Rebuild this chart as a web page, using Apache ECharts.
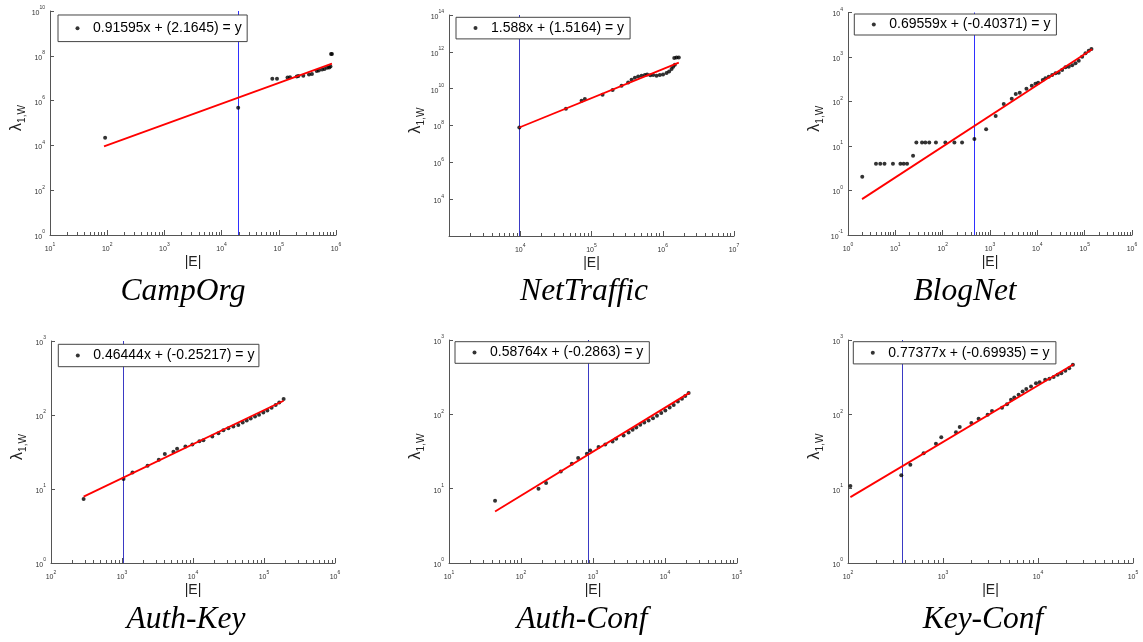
<!DOCTYPE html>
<html><head><meta charset="utf-8">
<script src="https://cdn.jsdelivr.net/npm/echarts@6/dist/echarts.min.js"></script>
<style>html,body{margin:0;padding:0;background:#fff}#c{width:1143px;height:642px}</style>
</head><body><div id="c"></div>
<script>
// ---------------- data ----------------
const campOrgE      = [92, 19500, 77000, 93000, 142000, 157000, 206000, 220000, 268000, 337000, 380000, 460000, 500000, 570000, 630000, 700000, 760000, 800000, 820000, 850000];
const campOrgLambda = [2.2e4, 4.8e5, 9.5e6, 9.5e6, 1.07e7, 1.1e7, 1.2e7, 1.25e7, 1.3e7, 1.45e7, 1.55e7, 2.1e7, 2.2e7, 2.45e7, 2.6e7, 2.9e7, 3.0e7, 3.3e7, 1.2e8, 1.2e8];
const campOrgFitE = [88, 850000];
const campOrgFitLambda = [9000, 4.5e7];
const campOrgCut = 19500;
const campOrgXRange = [1e1, 1e6];
const campOrgYRange = [1e0, 1e10];

const netTrafficE      = [9700, 43750, 72600, 80700, 143000, 198000, 264000, 327000, 365000, 406000, 452000, 505000, 561000, 604000, 668000, 733000, 818000, 910000, 1010000, 1130000, 1230000, 1330000, 1400000, 1480000, 1450000, 1560000, 1680000];
const netTrafficLambda = [7.8e7, 8.0e8, 2.24e9, 2.77e9, 4.74e9, 8.5e9, 1.45e10, 2.19e10, 3.06e10, 3.94e10, 4.62e10, 5.05e10, 5.5e10, 5.93e10, 5.3e10, 5.5e10, 5.05e10, 5.5e10, 5.93e10, 7.06e10, 8.6e10, 1.16e11, 1.55e11, 1.98e11, 4.56e11, 4.92e11, 4.92e11];
const netTrafficFitE = [9700, 1680000];
const netTrafficFitLambda = [7.8e7, 2.6e11];
const netTrafficCut = 9700;
const netTrafficXRange = [1e3, 1e7];
const netTrafficYRange = [1e2, 1e14];

const blogNetE      = [2, 3.9, 4.8, 5.9, 8.9, 12.8, 15, 17.7, 23.7, 27.8, 36.6, 43, 52, 72, 114, 177, 257, 468, 828, 1318, 1950, 2880, 3500, 4250, 5890, 7630, 9120, 10400, 13000, 14800, 17400, 20600, 24200, 28300, 33400, 39300, 46100, 54500, 64000, 75000, 88500, 104000, 122000, 139000];
const blogNetLambda = [2.04, 4, 4, 4, 4, 4, 4, 4, 6, 12, 12, 12, 12, 12, 12, 12, 12, 14.4, 23.7, 47, 88, 116, 148, 158, 194, 226, 251, 264, 304, 332, 361, 394, 431, 444, 511, 587, 605, 650, 721, 826, 1016, 1211, 1387, 1514];
const blogNetFitE = [1.98, 144000];
const blogNetFitLambda = [0.64, 1490];
const blogNetCut = 468;
const blogNetXRange = [1e0, 1e6];
const blogNetYRange = [1e-1, 1e4];

const authKeyE      = [288, 1050, 1406, 2290, 3300, 4010, 5300, 5970, 7820, 9800, 12300, 14000, 18700, 22800, 26800, 31500, 37000, 43500, 50100, 57100, 65000, 74700, 85100, 97800, 111400, 128000, 146000, 164000, 189000];
const authKeyLambda = [7.3, 13.6, 16.7, 20.6, 24.8, 29.6, 31.8, 34.9, 37.5, 39.9, 44.3, 45.7, 51.2, 56.8, 62.3, 66.4, 69.7, 73.5, 78.9, 84.1, 89.5, 95.3, 101, 108, 115, 125, 136, 147, 165];
const authKeyFitE = [288, 189000];
const authKeyFitLambda = [7.9, 156];
const authKeyCut = 1050;
const authKeyXRange = [1e2, 1e6];
const authKeyYRange = [1e0, 1e3];

const authConfE      = [43.6, 175, 223, 357, 508, 622, 822, 914, 1194, 1480, 1870, 2100, 2660, 3120, 3550, 3990, 4530, 5150, 5920, 6810, 7740, 8870, 10100, 11600, 13200, 15100, 17200, 19100, 21300];
const authConfLambda = [6.9, 10, 11.9, 17, 21.6, 25.8, 29.4, 32.6, 36.3, 39.3, 43.1, 46.9, 51.9, 56.9, 61.9, 66.5, 72.3, 77.6, 82.6, 88.9, 95.5, 104, 113, 124, 134, 149, 162, 177, 193];
const authConfFitE = [43.6, 22000];
const authConfFitLambda = [4.94, 196];
const authConfCut = 849;
const authConfXRange = [1e1, 1e5];
const authConfYRange = [1e0, 1e3];

const keyConfE      = [106, 364, 453, 625, 843, 959, 1370, 1500, 1990, 2370, 2950, 3280, 4180, 4720, 5200, 5630, 6250, 6890, 7530, 8440, 9520, 10400, 11900, 13200, 14600, 16100, 17600, 19400, 21300, 23300];
const keyConfLambda = [10.9, 15.1, 20.9, 30, 40.1, 49.3, 57.6, 67.3, 76.2, 87, 98.4, 111, 123, 137, 157, 168, 183, 203, 220, 237, 262, 271, 291, 300, 319, 340, 358, 385, 418, 463];
const keyConfFitE = [106, 23700];
const keyConfFitLambda = [7.7, 473];
const keyConfCut = 370;
const keyConfXRange = [1e2, 1e5];
const keyConfYRange = [1e0, 1e3];

const titles = ['CampOrg', 'NetTraffic', 'BlogNet', 'Auth-Key', 'Auth-Conf', 'Key-Conf'];
const equations = ['0.91595x + (2.1645) = y', '1.588x + (1.5164) = y', '0.69559x + (-0.40371) = y',
                   '0.46444x + (-0.25217) = y', '0.58764x + (-0.2863) = y', '0.77377x + (-0.69935) = y'];
const xName = '|E|';
const yName = '{l|λ}{s|1,W}';

// ---------------- layout ----------------
const panels = [
  {e: campOrgE, l: campOrgLambda, fe: campOrgFitE, fl: campOrgFitLambda, cut: campOrgCut, xr: campOrgXRange, yr: campOrgYRange, yInt: 2, hide: false,
   grid: [50, 11, 286, 224], leg: [58, 15, [5.3, 5.5, 5.3, 17.5]], cutColor: '#2f2fff', t: [183, 292]},
  {e: netTrafficE, l: netTrafficLambda, fe: netTrafficFitE, fl: netTrafficFitLambda, cut: netTrafficCut, xr: netTrafficXRange, yr: netTrafficYRange, yInt: 2, hide: true,
   grid: [449, 15, 285, 221], leg: [456, 17.3, [2.8, 6, 2.8, 17.5]], cutColor: '#3a3ac4', t: [584, 292]},
  {e: blogNetE, l: blogNetLambda, fe: blogNetFitE, fl: blogNetFitLambda, cut: blogNetCut, xr: blogNetXRange, yr: blogNetYRange, yInt: 1, hide: false,
   grid: [848, 12.5, 284, 222.5], leg: [854.3, 14, [2.5, 6, 2.5, 17.5]], cutColor: '#2f2fff', t: [965, 292]},
  {e: authKeyE, l: authKeyLambda, fe: authKeyFitE, fl: authKeyFitLambda, cut: authKeyCut, xr: authKeyXRange, yr: authKeyYRange, yInt: 1, hide: false,
   grid: [51, 341, 284, 222], leg: [58.3, 344.3, [3.2, 4.5, 3.2, 17.5]], cutColor: '#3a3ac4', t: [186, 620]},
  {e: authConfE, l: authConfLambda, fe: authConfFitE, fl: authConfFitLambda, cut: authConfCut, xr: authConfXRange, yr: authConfYRange, yInt: 1, hide: false,
   grid: [449, 340, 288, 223], leg: [455, 341.7, [2.8, 6, 2.8, 17.5]], cutColor: '#3a3ac4', t: [582, 620]},
  {e: keyConfE, l: keyConfLambda, fe: keyConfFitE, fl: keyConfFitLambda, cut: keyConfCut, xr: keyConfXRange, yr: keyConfYRange, yInt: 1, hide: false,
   grid: [848, 340, 285, 223], leg: [853.3, 341.7, [3.1, 6.5, 3.1, 17.5]], cutColor: '#3a3ac4', t: [983, 620]}
];

const AX = '#555';
const tickRich = {
  b: {fontSize: 7, lineHeight: 11, verticalAlign: 'bottom', fontFamily: 'Liberation Sans', color: '#333'},
  e: {fontSize: 5, lineHeight: 5, verticalAlign: 'top', fontFamily: 'Liberation Sans', color: '#333'}
};
function fmt(hideExp) {
  return function (v) {
    const ex = Math.round(Math.log10(v));
    if (hideExp !== null && ex === hideExp) return '';
    return '{b|10}{e|' + ex + '}';
  };
}

const grids = [], xAxes = [], yAxes = [], legends = [], series = [], graphics = [];
panels.forEach(function (p, i) {
  grids.push({left: p.grid[0], top: p.grid[1], width: p.grid[2], height: p.grid[3], containLabel: false, outerBoundsMode: 'none'});
  xAxes.push({
    type: 'log', logBase: 10, gridIndex: i, min: p.xr[0], max: p.xr[1], interval: 1,
    axisLine: {show: true, lineStyle: {color: AX, width: 1}},
    axisTick: {show: true, inside: true, length: 5, lineStyle: {color: AX}},
    minorTick: {show: true, splitNumber: 9, length: 3, lineStyle: {color: AX}},
    splitLine: {show: false}, minorSplitLine: {show: false},
    axisLabel: {margin: 7, formatter: fmt(p.hide ? Math.round(Math.log10(p.xr[0])) : null), rich: tickRich},
    name: xName, nameLocation: 'middle', nameGap: 20,
    nameTextStyle: {fontSize: 14, fontFamily: 'Liberation Sans', color: '#222'}
  });
  yAxes.push({
    type: 'log', logBase: 10, gridIndex: i, min: p.yr[0], max: p.yr[1], interval: p.yInt,
    axisLine: {show: true, lineStyle: {color: AX, width: 1}},
    axisTick: {show: true, inside: true, length: 4, lineStyle: {color: AX}},
    splitLine: {show: false},
    axisLabel: {margin: 5, formatter: fmt(p.hide ? Math.round(Math.log10(p.yr[0])) : null), rich: tickRich},
    name: yName, nameLocation: 'middle', nameRotate: 90, nameGap: 23,
    nameTextStyle: {padding: [0, 0, 0, 10], rich: {
      l: {fontSize: 16, lineHeight: 20, verticalAlign: 'middle', fontFamily: 'Liberation Sans', color: '#222'},
      s: {fontSize: 10, lineHeight: 11, verticalAlign: 'bottom', fontFamily: 'Liberation Sans', color: '#222'}
    }}
  });
  legends.push({
    data: [equations[i]], left: p.leg[0], top: p.leg[1], padding: p.leg[2], orient: 'horizontal',
    icon: 'circle', itemWidth: 21, itemHeight: 4, itemGap: 0, selectedMode: false, z: 50, zlevel: 0,
    backgroundColor: '#fff', borderColor: '#444', borderWidth: 1, borderRadius: 0,
    textStyle: {fontSize: 14, fontFamily: 'Liberation Sans', color: '#000', lineHeight: 16}
  });
  series.push({
    type: 'line', xAxisIndex: i, yAxisIndex: i, data: [], z: 1, silent: true,
    markLine: {silent: true, z: 1, symbol: ['none', 'none'], label: {show: false}, animation: false,
      lineStyle: {color: p.cutColor, width: 1, type: 'solid'}, data: [{xAxis: p.cut}]}
  });
  series.push({
    type: 'scatter', name: equations[i], xAxisIndex: i, yAxisIndex: i, z: 2,
    data: p.e.map(function (v, j) { return [v, p.l[j]]; }),
    symbol: 'circle', symbolSize: 4, itemStyle: {color: '#000'}
  });
  series.push({
    type: 'line', xAxisIndex: i, yAxisIndex: i, z: 3, silent: true,
    data: p.fe.map(function (v, j) { return [v, p.fl[j]]; }),
    symbol: 'none', showSymbol: false, lineStyle: {color: '#ff0000', width: 1.8}
  });
  graphics.push({
    type: 'text', x: p.t[0], y: p.t[1], silent: true,
    style: {text: titles[i], fontSize: 31.5, fontStyle: 'italic', fontFamily: 'Liberation Serif', fill: '#000',
      align: 'center', verticalAlign: 'middle', textAlign: 'center', textVerticalAlign: 'middle'}
  });
});

const chart = echarts.init(document.getElementById('c'), null, {renderer: 'canvas'});
chart.setOption({
  animation: false, backgroundColor: '#fff',
  grid: grids, xAxis: xAxes, yAxis: yAxes, legend: legends, series: series, graphic: graphics
});
</script></body></html>
